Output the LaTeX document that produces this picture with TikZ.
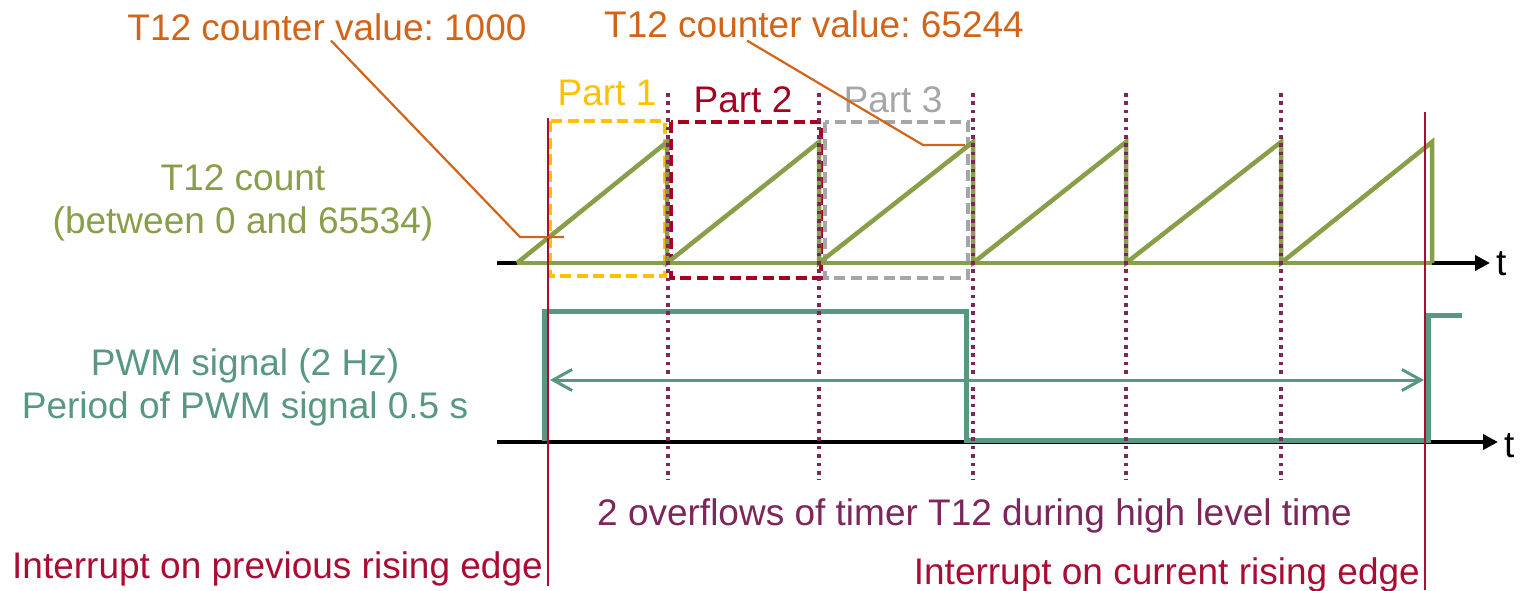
\documentclass[tikz,border=0pt]{standalone}
\usepackage{fontspec}
\setmainfont{Liberation Sans}
\usetikzlibrary{arrows.meta}
\definecolor{orangeC}{RGB}{210,100,25}
\definecolor{oliveC}{RGB}{137,158,72}
\definecolor{tealC}{RGB}{88,152,128}
\definecolor{purpC}{RGB}{125,38,92}
\definecolor{redC}{RGB}{170,12,52}
\definecolor{partTwoC}{RGB}{165,0,33}
\definecolor{yellowC}{RGB}{255,192,0}
\definecolor{grayC}{RGB}{166,166,166}
\tikzset{
  lbl/.style={inner sep=0pt, font=\fontsize{37}{43}\selectfont},
  axisline/.style={black, line width=4pt, -{Triangle[length=15pt,width=15pt]}},
  sawline/.style={oliveC, line width=4.5pt, line join=miter},
  pwmline/.style={tealC, line width=5pt},
  ovfline/.style={purpC, line width=3.6pt, dash pattern=on 3.6pt off 4.8pt},
  irqline/.style={redC, line width=2.2pt},
  partbox/.style={line width=3.8pt, dash pattern=on 11pt off 5.5pt},
  callout/.style={orangeC, line width=2.2pt},
  periodarrow/.style={tealC, line width=3pt, {Straight Barb[length=19pt,width=21pt]}-{Straight Barb[length=19pt,width=21pt]}}
}
\begin{document}
\frenchspacing
\begin{tikzpicture}[x=1pt,y=-1pt]
\useasboundingbox (0,0) rectangle (1524,590);

% dashed part boxes
\draw[partbox, yellowC] (550,121) rectangle (665,276);
\draw[partbox, partTwoC] (671,122) rectangle (821,278);
\draw[partbox, grayC] (825,122) rectangle (968,278);

% part labels
\node[lbl, text=yellowC, anchor=base] (p1) at (607,105) {Part 1};
\node[lbl, text=partTwoC, anchor=base] (p2) at (743,112) {Part 2};
\node[lbl, text=grayC, anchor=base] (p3) at (893,112) {Part 3};

% axes
\coordinate (ax1s) at (497,263);
\coordinate (ax1e) at (1490,263);
\coordinate (ax2s) at (497,442);
\coordinate (ax2e) at (1498,442);
\draw[axisline] (ax1s) -- (ax1e);
\draw[axisline] (ax2s) -- (ax2e);
\node[lbl, anchor=base west] (t1lbl) at (1496,275) {t};
\node[lbl, anchor=base west] (t2lbl) at (1504,457) {t};

% sawtooth
\draw[sawline] (517,263) -- (1432,263);
\draw[sawline] (517,263) -- (667,142) -- (667,263) -- (819,142) -- (819,263)
  -- (973,142) -- (973,263) -- (1126,142) -- (1126,263) -- (1281,142)
  -- (1281,263) -- (1432,142) -- (1432,263);

% PWM signal
\draw[pwmline] (544,441) -- (544,311) -- (966,311) -- (966,440) -- (1428,440)
  -- (1428,315) -- (1462,315);

% overflow markers
\foreach \xx in {668,819,973,1126,1281}
  \draw[ovfline] (\xx,93) -- (\xx,480);

% interrupt lines
\coordinate (irqAtop) at (548,118);
\coordinate (irqAbot) at (548,586);
\coordinate (irqBtop) at (1425,112);
\coordinate (irqBbot) at (1425,590);
\draw[irqline] (irqAtop) -- (irqAbot);
\draw[irqline] (irqBtop) -- (irqBbot);

% period arrow
\coordinate (perA) at (550,380);
\coordinate (perB) at (1424,380);
\draw[periodarrow] (perA) -- (perB);

% callouts
\node[lbl, text=orangeC, anchor=base] (cv1) at (327,40) {T12 counter value: 1000};
\node[lbl, text=orangeC, anchor=base] (cv2) at (814,37) {T12 counter value: 65244};
\coordinate (cv1k) at (520,237);
\coordinate (cv1e) at (564,237);
\coordinate (cv2k) at (923,145);
\coordinate (cv2e) at (965,145);
\draw[callout] ([xshift=4pt]cv1.south) -- (cv1k) -- (cv1e);
\draw[callout] ([xshift=-67pt,yshift=-3pt]cv2.south) -- (cv2k) -- (cv2e);

% left labels
\node[lbl, text=oliveC, anchor=base, align=center] (cnt) at (243,233) {T12 count\\(between 0 and 65534)};
\node[lbl, text=tealC, anchor=base, align=center] (pwm) at (245,418) {PWM signal (2 Hz)\\Period of PWM signal 0.5 s};

% bottom labels
\node[lbl, text=purpC, anchor=base west] (ovf) at (597,525) {2 overflows of timer T12 during high level time};
\node[lbl, text=redC, anchor=base east] (prev) at (543,578) {Interrupt on previous rising edge};
\node[lbl, text=redC, anchor=base east] (curr) at (1420,584) {Interrupt on current rising edge};
\end{tikzpicture}
\end{document}
